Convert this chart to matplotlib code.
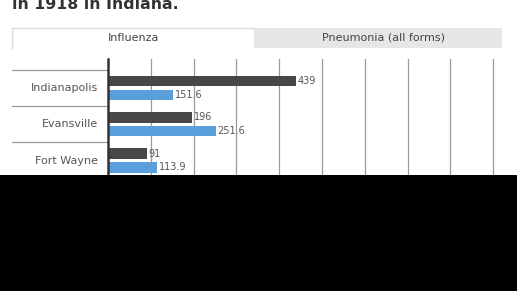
import matplotlib
matplotlib.use('Agg')
import matplotlib.pyplot as plt
import matplotlib.transforms as mtransforms
from matplotlib.patches import Rectangle
import numpy as np

plt.rcParams['font.family'] = ['DejaVu Sans']

# Data (deaths in 1918, visible part of the chart)
cities = ["Indianapolis", "Evansville", "Fort Wayne"]
influenza = [439, 196, 91]
pneumonia = [151.6, 251.6, 113.9]
grid_ticks = [100, 200, 300, 400, 500, 600, 700, 800, 900]
tab_labels = ["Influenza", "Pneumonia (all forms)"]
title = "in 1918 in Indiana."

W, H = 517, 291
fig = plt.figure(figsize=(W / 100, H / 100), dpi=100)

# main chart area (pixel-based placement)
left, top, bottom = 108, 59.5, 175
ax = fig.add_axes([left / W, 1 - bottom / H, 1 - left / W, (bottom - top) / H])
px_per_unit = 0.428
ax.set_xlim(0, (W - left) / px_per_unit)
ax.set_ylim(2.40, -0.79)

y = np.arange(len(cities))
off, bh = 0.19, 0.29
ax.barh(y - off, influenza, height=bh, color='#474747', zorder=3)
ax.barh(y + off, pneumonia, height=bh, color='#5a9fdb', zorder=3)

for yi, v in zip(y, influenza):
    ax.text(v + 4, yi - off, f'{v:g}', va='center', ha='left', fontsize=7, color='#555555')
for yi, v in zip(y, pneumonia):
    ax.text(v + 4, yi + off, f'{v:g}', va='center', ha='left', fontsize=7, color='#555555')

for g in grid_ticks:
    ax.axvline(g, color='#9a9a9a', lw=0.9, zorder=1)

ax.set_xticks([])
ax.set_yticks([])
for s in ['top', 'right', 'bottom']:
    ax.spines[s].set_visible(False)
ax.spines['left'].set_color('#333333')
ax.spines['left'].set_linewidth(1.8)
ax.spines['left'].set_zorder(4)

# category labels and separators on the left
trans = mtransforms.blended_transform_factory(fig.transFigure, ax.transData)
for yi, name in zip(y, cities):
    ax.text(98 / W, yi, name, transform=trans, ha='right', va='center',
            fontsize=8, color='#555555')
for b in np.arange(len(cities) + 1) - 0.5:
    ax.plot([12 / W, left / W], [b, b], transform=trans, color='#9a9a9a',
            lw=0.9, clip_on=False)

# overlay: title, tabs, black bottom band
ov = fig.add_axes([0, 0, 1, 1], zorder=10)
ov.set_xlim(0, W)
ov.set_ylim(H, 0)
ov.axis('off')
ov.patch.set_alpha(0)

ov.text(12, 9, title, fontsize=11.3, fontweight='bold', color='#333333',
        ha='left', va='baseline')

ov.add_patch(Rectangle((254, 27.5), 247.5, 20.5, facecolor='#e6e6e6', edgecolor='none'))
ov.add_patch(Rectangle((12, 27.5), 242, 20.5, facecolor='white', edgecolor='none'))
ov.plot([12, 12, 254], [48, 27.5, 27.5], color='#dddddd', lw=1)
ov.text(134, 38, tab_labels[0], ha='center', va='center', fontsize=8, color='#444444')
ov.text(383, 38, tab_labels[1], ha='center', va='center', fontsize=8, color='#444444')

ov.add_patch(Rectangle((0, 175), W, H - 175, facecolor='black', edgecolor='none'))

fig.savefig('out.png', dpi=100)
